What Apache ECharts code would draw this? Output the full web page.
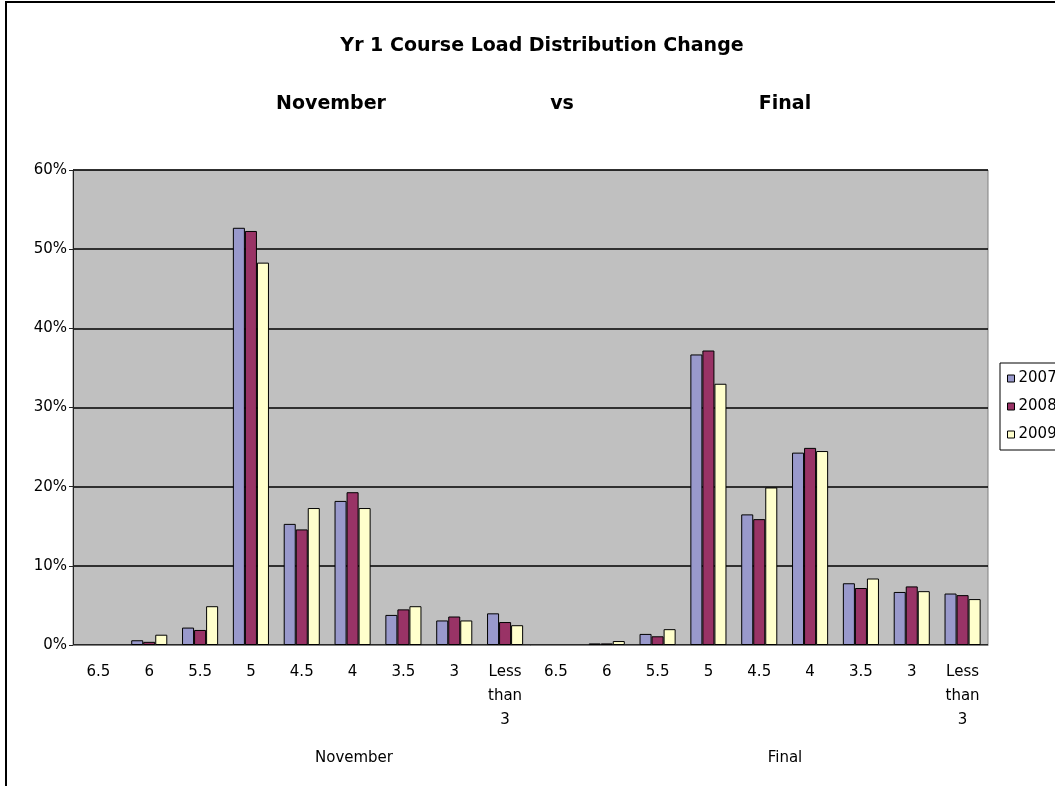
<!DOCTYPE html>
<html>
<head>
<meta charset="utf-8">
<script src="https://cdn.jsdelivr.net/npm/echarts@6/dist/echarts.min.js"></script>
<style>
  html, body { margin: 0; padding: 0; background: #fff; }
  #chart { width: 1055px; height: 786px; }
</style>
</head>
<body>
<div id="chart"></div>
<script>
// course load categories, repeated for each period
const courseLoads = ['6.5', '6', '5.5', '5', '4.5', '4', '3.5', '3', 'Less than 3']
const periods = ['November', 'Final']
const years = ['2007', '2008', '2009']

// percent of students (0-1), November block then Final block
const y2007 = [0, 0.006, 0.022, 0.527, 0.153, 0.182, 0.038, 0.031, 0.040,
               0, 0.002, 0.014, 0.367, 0.165, 0.243, 0.078, 0.067, 0.065]
const y2008 = [0, 0.004, 0.019, 0.523, 0.146, 0.193, 0.045, 0.036, 0.029,
               0, 0.002, 0.011, 0.372, 0.159, 0.249, 0.072, 0.074, 0.063]
const y2009 = [0, 0.013, 0.049, 0.483, 0.173, 0.173, 0.049, 0.031, 0.025,
               0, 0.005, 0.020, 0.330, 0.199, 0.245, 0.084, 0.068, 0.058]

const yearColors = ['#9999cc', '#993366', '#ffffcc']

const categories = []
periods.forEach(p => courseLoads.forEach(c => categories.push(p + '|' + c)))

const chart = echarts.init(document.getElementById('chart'))
const font = 'DejaVu Sans, Verdana, sans-serif'

const headStyle = {
  fontFamily: font, fontSize: 19, fontWeight: 'bold', fill: '#000',
  textAlign: 'center', textVerticalAlign: 'middle'
}
const footStyle = {
  fontFamily: font, fontSize: 15, fill: '#000',
  textAlign: 'center', textVerticalAlign: 'middle'
}

const option = {
  backgroundColor: '#fff',
  animation: false,
  grid: {
    left: 73, right: 67, top: 170, bottom: 141,
    show: true, backgroundColor: '#c0c0c0', borderColor: '#808080', borderWidth: 1
  },
  legend: {
    data: years,
    orient: 'vertical',
    left: 1000, top: 363,
    icon: 'rect',
    itemWidth: 7, itemHeight: 7, itemGap: 13,
    padding: [8, 8, 8, 7],
    borderColor: '#000', borderWidth: 1,
    backgroundColor: '#fff',
    itemStyle: { borderColor: '#000', borderWidth: 1 },
    textStyle: { fontFamily: font, fontSize: 15, color: '#000', padding: [0, 0, 0, -1] }
  },
  xAxis: {
    type: 'category',
    data: categories,
    axisLine: { lineStyle: { color: '#808080' } },
    axisTick: { show: false },
    axisLabel: {
      interval: 0, margin: 15,
      fontFamily: font, fontSize: 15, color: '#000', lineHeight: 24,
      formatter: v => v.split('|')[1].split(' ').join('\n')
    }
  },
  yAxis: {
    type: 'value',
    min: 0, max: 0.6, interval: 0.1,
    axisLine: { show: true, lineStyle: { color: '#222' } },
    axisTick: { show: true, length: 4, lineStyle: { color: '#222' } },
    splitLine: { lineStyle: { color: '#000', width: 1.5 } },
    axisLabel: {
      margin: 6, fontFamily: font, fontSize: 15, color: '#000',
      formatter: v => Math.round(v * 100) + '%'
    }
  },
  series: [y2007, y2008, y2009].map((d, i) => ({
    name: years[i],
    type: 'bar',
    // zero values draw nothing, like the original
    data: d.map(v => v === 0 ? { value: v, itemStyle: { borderWidth: 0 } } : v),
    barGap: '0%',
    barCategoryGap: '29%',
    itemStyle: { color: yearColors[i], borderColor: '#000', borderWidth: 1 }
  })),
  graphic: [
    { type: 'rect', shape: { x: 6, y: 2, width: 1200, height: 1000 },
      style: { fill: 'none', stroke: '#000', lineWidth: 2 }, z: 100 },
    { type: 'text', x: 542, y: 46,
      style: Object.assign({ text: 'Yr 1 Course Load Distribution Change' }, headStyle) },
    { type: 'text', x: 331, y: 104, style: Object.assign({ text: periods[0] }, headStyle) },
    { type: 'text', x: 562, y: 104, style: Object.assign({ text: 'vs' }, headStyle) },
    { type: 'text', x: 785, y: 104, style: Object.assign({ text: periods[1] }, headStyle) },
    { type: 'text', x: 354, y: 758, style: Object.assign({ text: periods[0] }, footStyle) },
    { type: 'text', x: 785, y: 758, style: Object.assign({ text: periods[1] }, footStyle) }
  ]
}

chart.setOption(option)
</script>
</body>
</html>
